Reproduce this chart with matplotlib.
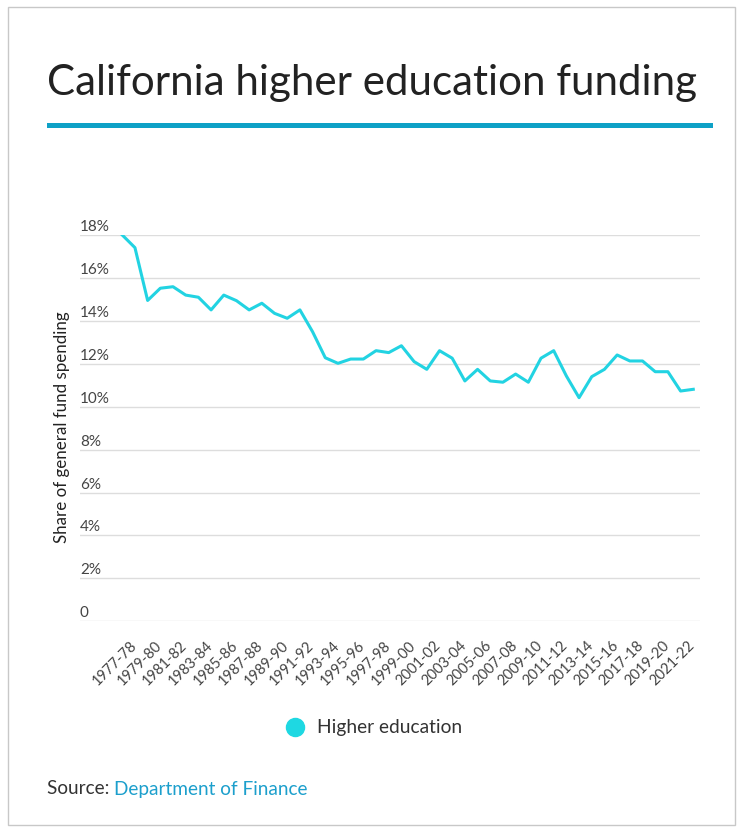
import matplotlib
matplotlib.use("Agg")
import matplotlib.pyplot as plt
import matplotlib.transforms as mtransforms
from matplotlib.patches import Rectangle
from matplotlib.lines import Line2D

plt.rcParams['font.family'] = ['Lato', 'DejaVu Sans']

# fiscal years 1977-78 .. 2022-23
years = [f"{y}-{str(y + 1)[-2:]}" for y in range(1977, 2023)]
share = [18.0, 17.41, 14.95, 15.52, 15.59, 15.2, 15.1, 14.51, 15.2, 14.94,
         14.51, 14.82, 14.35, 14.12, 14.51, 13.49, 12.28, 12.02, 12.22, 12.22,
         12.61, 12.52, 12.84, 12.1, 11.74, 12.61, 12.26, 11.2, 11.74, 11.2,
         11.14, 11.52, 11.14, 12.26, 12.61, 11.43, 10.42, 11.4, 11.74, 12.41,
         12.13, 12.13, 11.63, 11.63, 10.73, 10.81]
yticks = [0, 2, 4, 6, 8, 10, 12, 14, 16, 18]
ytick_labels = ["0"] + [f"{v}%" for v in yticks[1:]]

W, H = 741, 831
fig = plt.figure(figsize=(W / 100, H / 100), dpi=100)
fig.patch.set_facecolor("white")

# card border
fig.add_artist(Rectangle((8 / W, 6 / H), 727 / W, 818 / H, transform=fig.transFigure,
                         facecolor="none", edgecolor="#c8c8c8", lw=1.0))

fig.text(47 / W, 1 - 95 / H, "California higher education funding",
         fontsize=30.3, color="#222222", ha="left", va="baseline")
fig.add_artist(Rectangle((47 / W, 1 - 128 / H), 666 / W, 5 / H, transform=fig.transFigure,
                         facecolor="#0ea1c6", edgecolor="none"))

ax = fig.add_axes([80 / W, 1 - 621.3 / H, 620 / W, (621.3 - 235) / H])
ax.patch.set_visible(False)
x = list(range(len(years)))
ax.set_xlim(-3.33, len(years) - 1 + 0.53)
ax.set_ylim(0, 18)
for s in ax.spines.values():
    s.set_visible(False)

lift = mtransforms.ScaledTranslation(0, 1 / 100, fig.dpi_scale_trans)
for v, lab in zip(yticks, ytick_labels):
    ax.axhline(v, color="#dddddd", lw=1.0, zorder=1)
    ax.text(0, v, lab, transform=ax.get_yaxis_transform() + lift, ha="left",
            va="bottom", fontsize=11, color="#444444")
ax.set_yticks([])

ax.plot(x, share, color="#22d3e2", lw=2.2, zorder=3)

ax.set_xticks(x[::2])
ax.set_xticklabels(years[::2], rotation=45, ha="right", va="center",
                   rotation_mode="anchor", fontsize=10.5, color="#444444")
ax.tick_params(axis="x", length=0, pad=16)
shift = mtransforms.ScaledTranslation(12 / 100, 0, fig.dpi_scale_trans)
for lab in ax.get_xticklabels():
    lab.set_transform(lab.get_transform() + shift)

ax.set_ylabel("Share of general fund spending", fontsize=12.2, color="#222222")
ax.yaxis.set_label_coords(-10 / 620, 0.5 - (427 - 428) / 386)

# legend
fig.add_artist(Line2D([295 / W], [1 - 727 / H], marker="o", markersize=13,
                      color="#1ed8e2", transform=fig.transFigure))
fig.text(317 / W, 1 - 727 / H, "Higher education", fontsize=13.8, color="#333333",
         ha="left", va="center")

src = fig.text(47 / W, 1 - 789 / H, "Source: ", fontsize=13.7, color="#333333",
               ha="left", va="center")
fig.canvas.draw()
bb = src.get_window_extent()
fig.text(bb.x1 / W, 1 - 789 / H, "Department of Finance", fontsize=13.7, color="#1c9fcc",
         ha="left", va="center")

fig.savefig("out.png", dpi=100)
